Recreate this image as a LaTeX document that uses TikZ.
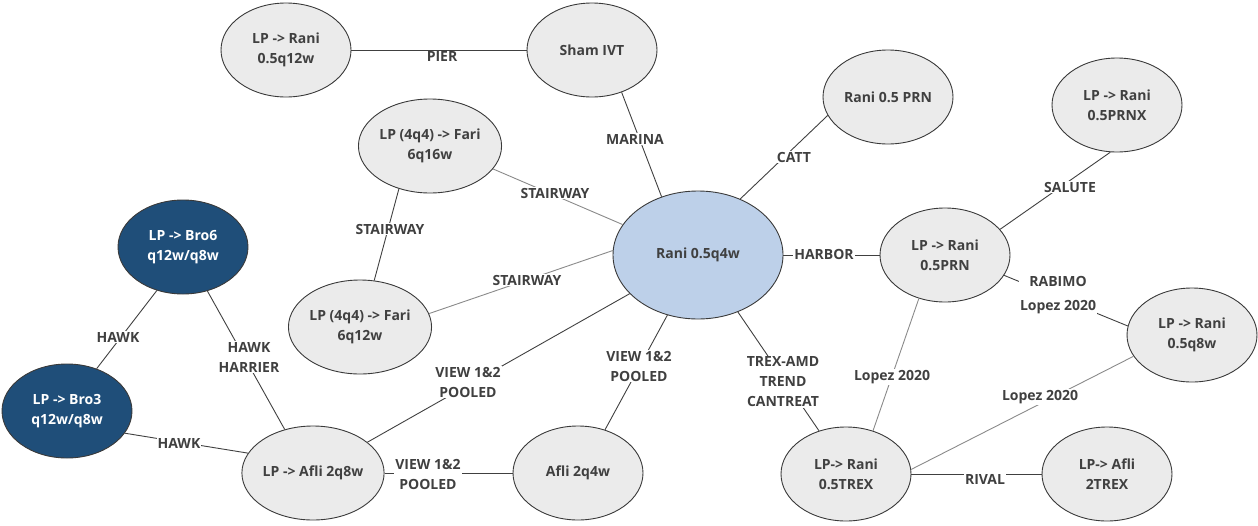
\documentclass[tikz,border=0pt]{standalone}
\usepackage{fontspec}
\setmainfont{Open Sans}
\usetikzlibrary{shapes.geometric}
\definecolor{txt}{HTML}{404040}
\definecolor{rim}{HTML}{3A3A3A}
\definecolor{nodefill}{HTML}{EBEBEB}
\definecolor{hubfill}{HTML}{BDD0E9}
\definecolor{darkfill}{HTML}{1F4E79}
\definecolor{linkcol}{HTML}{404040}
\definecolor{softcol}{HTML}{8A8A8A}
\begin{document}
\begin{tikzpicture}[x=1pt,y=-1pt,
  nd/.style={ellipse, draw=rim, line width=0.9pt, fill=nodefill,
    minimum width=130pt, minimum height=94pt, inner sep=0pt, align=center,
    font=\fontsize{14}{20}\selectfont\bfseries, text=txt},
  hub/.style={nd, fill=hubfill, minimum width=170pt, minimum height=128pt},
  dark/.style={nd, fill=darkfill, text=white},
  lbl/.style={fill=white, inner sep=1pt, align=center,
    font=\fontsize{14}{20}\selectfont\bfseries, text=txt},
  link/.style={draw=linkcol, line width=0.9pt},
  soft/.style={draw=softcol, line width=0.9pt}]
\useasboundingbox (0,0) rectangle (1258,525);

% nodes
\node[nd]   (r12)   at (286,50)  {LP -> Rani\\0.5q12w};
\node[nd]   (sham)  at (592,50)  {Sham IVT};
\node[nd]   (prn)   at (888,97)  {Rani 0.5 PRN};
\node[nd]   (prnx)  at (1117,105) {LP -> Rani\\0.5PRNX};
\node[hub]  (hub)   at (698,255) {Rani 0.5q4w};
\node[nd]   (f16)   at (430,146) {LP (4q4) -> Fari\\6q16w};
\node[nd]   (f12)   at (360,327) {LP (4q4) -> Fari\\6q12w};
\node[dark] (bro6)  at (183,247) {LP -> Bro6\\q12w/q8w};
\node[dark] (bro3)  at (67,411)  {LP -> Bro3\\q12w/q8w};
\node[nd]   (a2q8)  at (313,473) {LP -> Afli 2q8w};
\node[nd]   (a2q4)  at (578,473) {Afli 2q4w};
\node[nd]   (lprn)  at (945,255) {LP -> Rani\\0.5PRN};
\node[nd]   (q8)    at (1192,335) {LP -> Rani\\0.5q8w};
\node[nd]   (trex)  at (846,474) {LP-> Rani\\0.5TREX};
\node[nd]   (atrex) at (1107,474) {LP-> Afli\\2TREX};

% connectors
\draw[link] (r12) -- (sham);
\draw[link] (sham.-55) -- (hub.122);
\draw[link] (prn.197) -- (hub.53);
\draw[soft] (f16.-20) -- (hub.158);
\draw[link] (f16.234) -- (f12.73);
\draw[soft] (f12.11) -- (hub.177);
\draw[link] (bro6.239) -- (bro3.55);
\draw[link] (bro6.299) -- (a2q8.123);
\draw[link] (bro3.-21) -- (a2q8.163);
\draw[link] (a2q8) -- (hub);
\draw[link] (a2q8) -- (a2q4);
\draw[link] (a2q4.58) -- (hub.243);
\draw[link] (hub.-55) -- (trex.122);
\draw[link] (hub) -- (lprn);
\draw[link] (lprn.25) -- (prnx.262);
\draw[link] (lprn.-19) -- (q8.172);
\draw[soft] (lprn.239) -- (trex.58);
\draw[soft] (trex.4) -- (q8.200);
\draw[link] (trex) -- (atrex);

% connector labels
\node[lbl] (lpier)  at (442,57)  {PIER};
\node[lbl] (lmar)   at (635,139) {MARINA};
\node[lbl] (lcatt)  at (794,157) {CATT};
\node[lbl] (lst1)   at (555,193) {STAIRWAY};
\node[lbl] (lst2)   at (390,229) {STAIRWAY};
\node[lbl] (lst3)   at (527,280) {STAIRWAY};
\node[lbl] (lhawk1) at (118,337) {HAWK};
\node[lbl] (lhh)    at (249,357) {HAWK\\HARRIER};
\node[lbl] (lhawk2) at (179,443) {HAWK};
\node[lbl] (lv1)    at (468,382) {VIEW 1\&2\\POOLED};
\node[lbl] (lv2)    at (428,474) {VIEW 1\&2\\POOLED};
\node[lbl] (lv3)    at (639,366) {VIEW 1\&2\\POOLED};
\node[lbl] (ltrend) at (783,382) {TREX-AMD\\TREND\\CANTREAT};
\node[lbl] (lharb)  at (824,254) {HARBOR};
\node[lbl] (lsal)   at (1070,187) {SALUTE};
\node[lbl, font=\fontsize{14}{24}\selectfont\bfseries] (lrab) at (1058,295) {RABIMO\\Lopez 2020};
\node[lbl] (llop1)  at (892,377) {Lopez 2020};
\node[lbl] (llop2)  at (1040,397) {Lopez 2020};
\node[lbl] (lriv)   at (985,479) {RIVAL};
\end{tikzpicture}
\end{document}
